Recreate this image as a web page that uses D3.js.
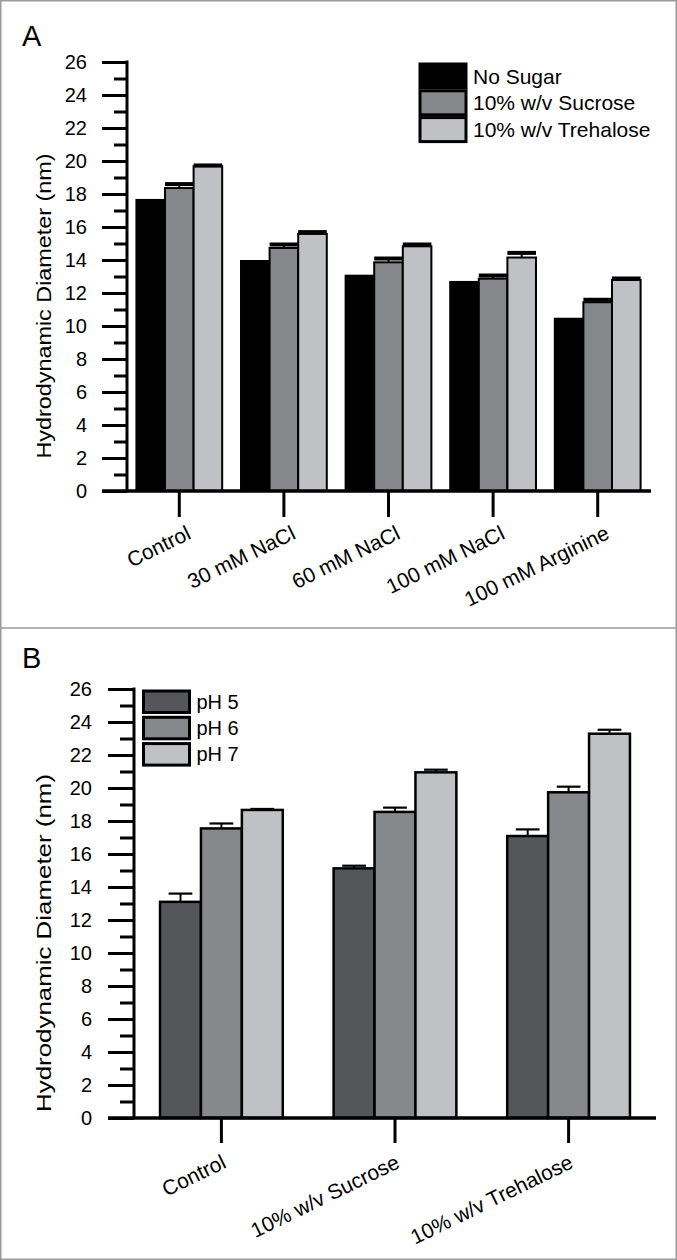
<!DOCTYPE html>
<html>
<head>
<meta charset="utf-8">
<script src="https://cdn.jsdelivr.net/npm/d3@7"></script>
<style>
  html, body { margin: 0; padding: 0; background: #fff; }
  svg { display: block; }
  text { font-family: Arial, "Liberation Sans", sans-serif; fill: #000; }
</style>
</head>
<body>
<div id="chart"></div>
<script>
// ---------- Panel A data ----------
const categoriesA = ["Control", "30 mM NaCl", "60 mM NaCl", "100 mM NaCl", "100 mM Arginine"];
const seriesA = ["No Sugar", "10% w/v Sucrose", "10% w/v Trehalose"];
const noSugar = [17.64, 13.94, 13.05, 12.67, 10.44];
const sucrose = [18.36, 14.73, 13.86, 12.87, 11.44];
const sucroseErr = [0.24, 0.21, 0.23, 0.19, 0.15];
const trehalose = [19.68, 15.58, 14.83, 14.15, 12.79];
const trehaloseErr = [0.05, 0.11, 0.11, 0.28, 0.09];
const colorsA = ["#000000", "#86878b", "#c0c1c5"];

// ---------- Panel B data ----------
const categoriesB = ["Control", "10% w/v Sucrose", "10% w/v Trehalose"];
const seriesB = ["pH 5", "pH 6", "pH 7"];
const pH5 = [13.1, 15.13, 17.09];
const pH5Err = [0.5, 0.16, 0.4];
const pH6 = [17.55, 18.55, 19.74];
const pH6Err = [0.3, 0.26, 0.34];
const pH7 = [18.67, 20.95, 23.29];
const pH7Err = [0.06, 0.16, 0.24];
const colorsB = ["#555659", "#87888c", "#c0c1c4"];

// ---------- shared axis ----------
const yMajorTicks = [0, 2, 4, 6, 8, 10, 12, 14, 16, 18, 20, 22, 24, 26];
const yMinorTicks = [1, 3, 5, 7, 9, 11, 13, 15, 17, 19, 21, 23, 25];
const yLabel = "Hydrodynamic Diameter (nm)";

const W = 677, H = 1260;
const svg = d3.select("#chart").append("svg").attr("width", W).attr("height", H);

// frame
svg.append("rect").attr("x", 0.75).attr("y", 0.75).attr("width", W - 1.5).attr("height", H - 1.5)
  .attr("fill", "none").attr("stroke", "#9a9a9a").attr("stroke-width", 1.5);
svg.append("line").attr("x1", 0).attr("x2", W).attr("y1", 628).attr("y2", 628)
  .attr("stroke", "#9a9a9a").attr("stroke-width", 1.5);

function panel(cfg) {
  const g = svg.append("g");
  const y = d3.scaleLinear().domain([0, 26]).range([cfg.y0, cfg.y26]);
  const x0 = d3.scaleBand().domain(cfg.categories).range([cfg.axisX, cfg.xEnd])
    .paddingInner(cfg.padIn).paddingOuter(cfg.padOut);
  const x1 = d3.scaleBand().domain(cfg.series).range([0, x0.bandwidth()]);

  // panel letter
  g.append("text").attr("x", 22).attr("y", cfg.letterY).attr("font-size", 29).text(cfg.letter);

  // bars
  cfg.series.forEach((s, si) => {
    const vals = cfg.values[si];
    g.append("g").selectAll("rect").data(vals).join("rect")
      .attr("x", (d, i) => x0(cfg.categories[i]) + x1(s))
      .attr("y", d => y(d))
      .attr("width", x1.bandwidth())
      .attr("height", d => y(0) - y(d))
      .attr("fill", cfg.colors[si])
      .attr("stroke", "#000").attr("stroke-width", cfg.barStroke);
  });

  // error bars (positive only)
  cfg.series.forEach((s, si) => {
    const errs = cfg.errors[si];
    if (!errs) return;
    const vals = cfg.values[si];
    const eg = g.append("g");
    vals.forEach((v, i) => {
      const cx = x0(cfg.categories[i]) + x1(s) + x1.bandwidth() / 2;
      const cw = cfg.capFrac * x1.bandwidth();
      eg.append("line").attr("x1", cx).attr("x2", cx).attr("y1", y(v)).attr("y2", y(v + errs[i]))
        .attr("stroke", "#000").attr("stroke-width", 2);
      eg.append("line").attr("x1", cx - cw / 2).attr("x2", cx + cw / 2)
        .attr("y1", y(v + errs[i])).attr("y2", y(v + errs[i]))
        .attr("stroke", "#000").attr("stroke-width", cfg.capStroke);
    });
  });

  // y axis major
  const yAx = g.append("g").attr("transform", `translate(${cfg.axisX},0)`)
    .call(d3.axisLeft(y).tickValues(yMajorTicks).tickSize(cfg.majorLen).tickPadding(cfg.tickPad).tickSizeOuter(0));
  yAx.select(".domain").remove();
  yAx.selectAll(".tick line").attr("stroke", "#000").attr("stroke-width", 3);
  yAx.selectAll(".tick text").attr("font-size", 20).attr("font-family", 'Arial, "Liberation Sans", sans-serif');
  // y axis minor
  const yMin = g.append("g").attr("transform", `translate(${cfg.axisX},0)`)
    .call(d3.axisLeft(y).tickValues(yMinorTicks).tickSize(cfg.minorLen).tickFormat(""));
  yMin.select(".domain").remove();
  yMin.selectAll(".tick line").attr("stroke", "#000").attr("stroke-width", 3);
  // y axis line
  g.append("line").attr("x1", cfg.axisX).attr("x2", cfg.axisX).attr("y1", y(26) - 1.5).attr("y2", y(0))
    .attr("stroke", "#000").attr("stroke-width", 3);

  // x axis
  g.append("line").attr("x1", cfg.axisX - cfg.majorLen).attr("x2", cfg.xLineEnd)
    .attr("y1", y(0)).attr("y2", y(0)).attr("stroke", "#000").attr("stroke-width", 3.5);
  const xAx = g.append("g").attr("transform", `translate(0,${y(0)})`)
    .call(d3.axisBottom(x0).tickSize(cfg.xTickLen).tickSizeOuter(0).tickFormat(""));
  xAx.select(".domain").remove();
  xAx.selectAll(".tick line").attr("stroke", "#000").attr("stroke-width", 3);

  // x labels (rotated)
  g.append("g").selectAll("text").data(cfg.categories).join("text")
    .attr("text-anchor", "end").attr("font-size", 21)
    .attr("transform", d => `translate(${x0(d) + x0.bandwidth() / 2 + cfg.labDx},${cfg.labY}) rotate(${cfg.labAngle})`)
    .text(d => d);

  // y title
  g.append("text").attr("text-anchor", "middle").attr("font-size", 21)
    .attr("textLength", cfg.titleLen).attr("lengthAdjust", "spacingAndGlyphs")
    .attr("transform", `translate(51,${cfg.titleY}) rotate(-90)`)
    .text(yLabel);

  // legend
  const lg = g.append("g");
  cfg.series.forEach((s, si) => {
    const ry = cfg.legY + si * cfg.legStep;
    lg.append("rect").attr("x", cfg.legX).attr("y", ry).attr("width", cfg.legW).attr("height", cfg.legH)
      .attr("fill", cfg.colors[si]).attr("stroke", "#000").attr("stroke-width", 3);
    lg.append("text").attr("x", cfg.legX + cfg.legW + cfg.legGap).attr("y", ry + cfg.legH / 2 + cfg.legBase)
      .attr("font-size", cfg.legFont).text(s);
  });
}

panel({
  letter: "A", letterY: 46,
  categories: categoriesA, series: seriesA,
  values: [noSugar, sucrose, trehalose],
  errors: [null, sucroseErr, trehaloseErr],
  colors: colorsA,
  y0: 491, y26: 62,
  axisX: 127, xEnd: 650, xLineEnd: 651, padIn: 0.18, padOut: 0.09,
  barStroke: 2, capFrac: 1.0, capStroke: 4,
  majorLen: 25, minorLen: 13, tickPad: 15, xTickLen: 26,
  labDx: 13, labY: 538, labAngle: -26,
  titleY: 306, titleLen: 305,
  legX: 420, legY: 64, legW: 46, legH: 24, legStep: 26.8, legGap: 7, legFont: 21, legBase: 7.5
});

panel({
  letter: "B", letterY: 668,
  categories: categoriesB, series: seriesB,
  values: [pH5, pH6, pH7],
  errors: [pH5Err, pH6Err, pH7Err],
  colors: colorsB,
  y0: 1118, y26: 689,
  axisX: 134, xEnd: 656, xLineEnd: 656, padIn: 0.293, padOut: 0.15,
  barStroke: 2.5, capFrac: 0.58, capStroke: 2.2,
  majorLen: 26, minorLen: 14, tickPad: 16, xTickLen: 25,
  labDx: 6, labY: 1167, labAngle: -26,
  titleY: 943, titleLen: 338,
  legX: 143.5, legY: 691, legW: 46, legH: 21.5, legStep: 26.3, legGap: 7, legFont: 20, legBase: 7
});
</script>
</body>
</html>
